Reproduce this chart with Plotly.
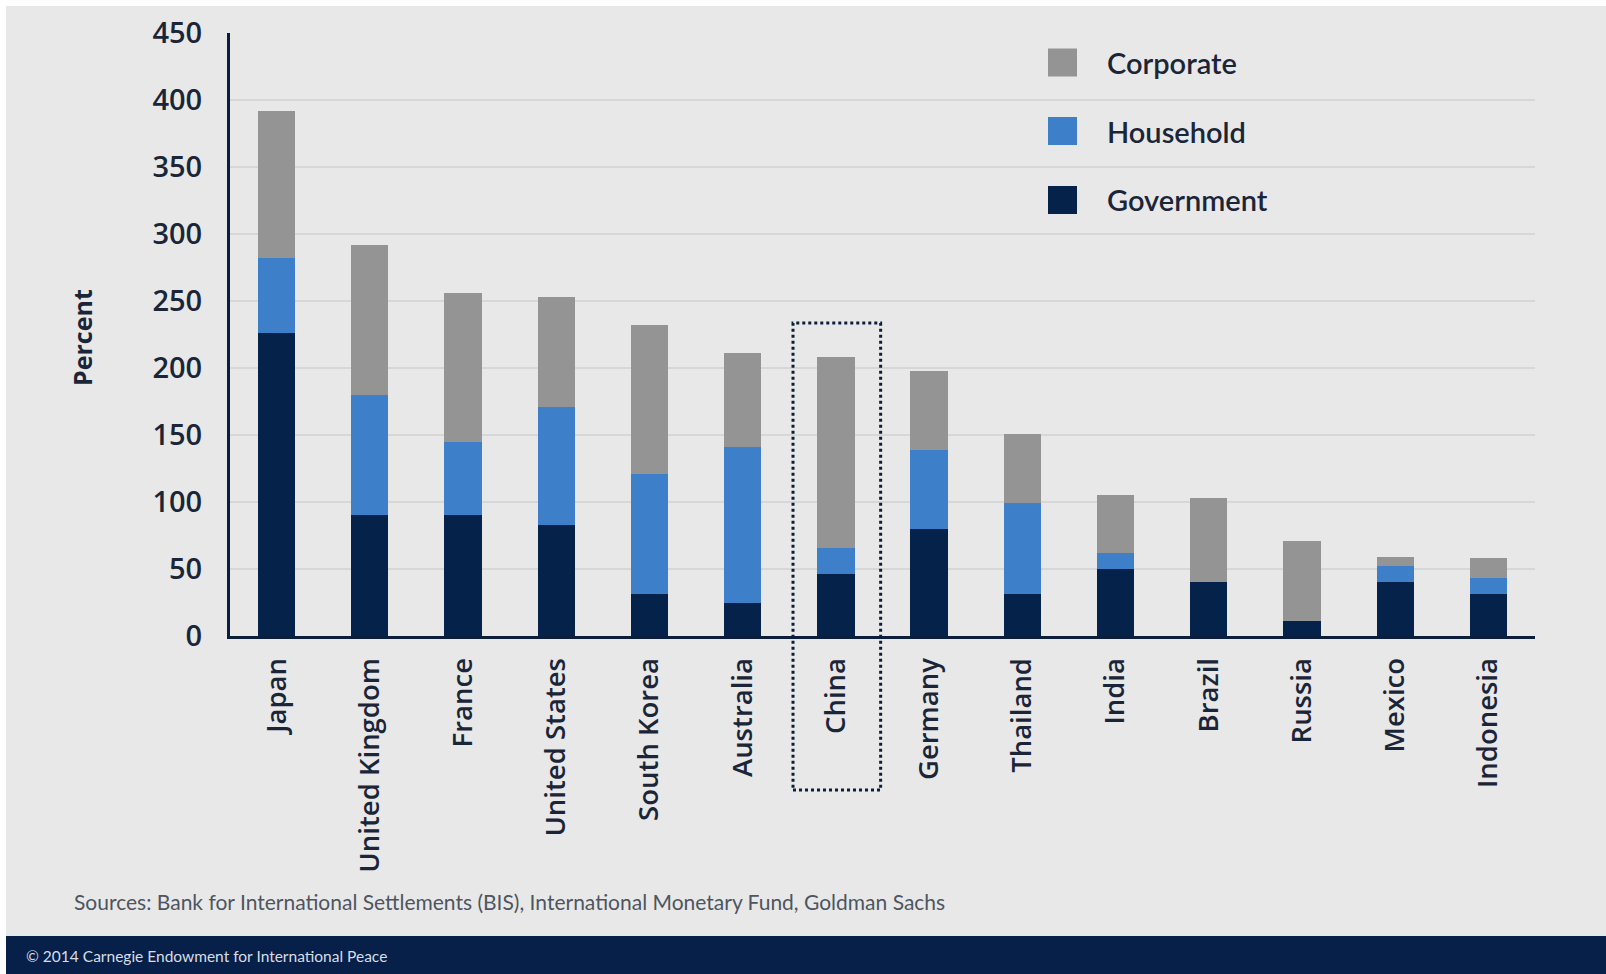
import plotly.graph_objects as go

# Debt by sector, percent of GDP
countries = ["Japan", "United Kingdom", "France", "United States", "South Korea",
             "Australia", "China", "Germany", "Thailand", "India", "Brazil",
             "Russia", "Mexico", "Indonesia"]
government = [226, 90, 90, 83, 31, 25, 46, 80, 31, 50, 40, 11, 40, 31]
household = [56, 90, 55, 88, 90, 116, 20, 59, 68, 12, 0, 0, 12, 12]
corporate = [110, 112, 111, 82, 111, 70, 142, 59, 52, 43, 63, 60, 7, 15]

y_ticks = [0, 50, 100, 150, 200, 250, 300, 350, 400, 450]

series_names = ["Corporate", "Household", "Government"]
series_colors = ["#949494", "#3d80c9", "#05234a"]
highlight = "China"

sources_text = "Sources: Bank for International Settlements (BIS), International Monetary Fund, Goldman Sachs"
credit_text = "© 2014 Carnegie Endowment for International Peace"

W, H = 1606, 974
L, R, T, B = 230, 1535, 33, 636  # plot area in pixels
NAVY = "#0b1f3d"
TEXT = "#1b2538"


def px_x(x):
    return (x - L) / (R - L)


def px_y(y):
    return (B - y) / (B - T)


fig = go.Figure()
values = {"Corporate": corporate, "Household": household, "Government": government}
for name in ["Government", "Household", "Corporate"]:
    fig.add_trace(go.Bar(
        x=countries, y=values[name], name=name,
        marker=dict(color=series_colors[series_names.index(name)], line=dict(width=0)),
        showlegend=False,
    ))

shapes = []
annotations = []

# page background and footer band
shapes.append(dict(type="rect", xref="paper", yref="paper", layer="below",
                   x0=px_x(6), x1=px_x(W), y0=px_y(936), y1=px_y(6),
                   fillcolor="#e8e8e8", line=dict(width=0)))
shapes.append(dict(type="rect", xref="paper", yref="paper", layer="above",
                   x0=px_x(6), x1=px_x(W), y0=px_y(H), y1=px_y(936),
                   fillcolor="#06204a", line=dict(width=0)))

# dotted frame around the highlighted country and its label
ci = countries.index(highlight)
shapes.append(dict(type="rect", xref="x", yref="paper",
                   x0=ci - 0.46, x1=ci + 0.48, y0=px_y(790), y1=px_y(323),
                   line=dict(color=NAVY, width=3, dash="dot"),
                   fillcolor="rgba(0,0,0,0)"))

# legend: square swatches with labels
legend_rows = [62.5, 131, 200]
for name, color, yc in zip(series_names, series_colors, legend_rows):
    shapes.append(dict(type="rect", xref="paper", yref="paper",
                       x0=px_x(1048), x1=px_x(1077),
                       y0=px_y(yc + 14), y1=px_y(yc - 14),
                       fillcolor=color, line=dict(width=0)))
    annotations.append(dict(xref="paper", yref="paper", x=px_x(1105), y=px_y(yc),
                            text=name, showarrow=False, xanchor="left", yanchor="middle",
                            font=dict(family="Lato", size=29, color=TEXT, weight=600)))

annotations.append(dict(xref="paper", yref="paper", x=px_x(82), y=px_y(338),
                        text="<b>Percent</b>", textangle=-90, showarrow=False,
                        xanchor="center", yanchor="middle",
                        font=dict(family="Open Sans", size=25, color=TEXT)))
annotations.append(dict(xref="paper", yref="paper", x=px_x(72), y=px_y(901),
                        text=sources_text, showarrow=False,
                        xanchor="left", yanchor="middle",
                        font=dict(family="Lato", size=21, color="#4d5560")))
annotations.append(dict(xref="paper", yref="paper", x=px_x(24), y=px_y(956),
                        text=credit_text, showarrow=False,
                        xanchor="left", yanchor="middle",
                        font=dict(family="Lato", size=15.5, color="#d8dde6")))

fig.update_layout(
    width=W, height=H,
    margin=dict(l=L, r=W - R, t=T, b=H - B, pad=0),
    barmode="stack", bargap=0.6,
    paper_bgcolor="#ffffff", plot_bgcolor="#e8e8e8",
    showlegend=False,
    shapes=shapes, annotations=annotations,
    font=dict(family="Open Sans", color=TEXT),
)
fig.update_xaxes(
    type="category", categoryorder="array", categoryarray=countries,
    tickangle=-90, tickfont=dict(family="Open Sans", size=27.5, color=TEXT, weight=600),
    showline=True, linecolor=NAVY, linewidth=3, ticks="", showgrid=False,
    ticklabelstandoff=8, range=[-0.5, len(countries) - 0.5],
)
fig.update_yaxes(
    range=[0, 450], tickvals=y_ticks, ticktext=[str(v) for v in y_ticks],
    tickfont=dict(family="Open Sans", size=29, color=TEXT, weight=600),
    showline=True, linecolor=NAVY, linewidth=3, ticks="",
    showgrid=True, gridcolor="#d7d7d7", gridwidth=1.5, zeroline=False,
    ticklabelstandoff=19,
)

fig.write_html("out.html")
